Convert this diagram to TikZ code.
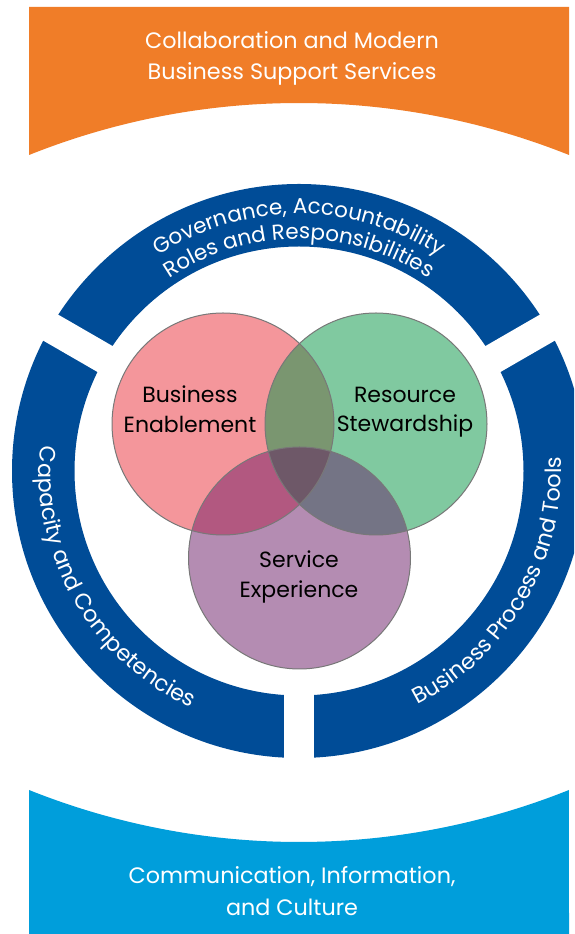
\documentclass[tikz,border=0pt]{standalone}
\usepackage{fontspec}
\setmainfont{Poppins}
\usetikzlibrary{decorations.text}
\definecolor{orangebox}{RGB}{240,125,40}
\definecolor{ringblue}{RGB}{0,76,151}
\definecolor{skyblue}{RGB}{0,158,219}
\definecolor{vpink}{RGB}{244,150,155}
\definecolor{vgreen}{RGB}{128,201,160}
\definecolor{vpurple}{RGB}{180,140,178}
\definecolor{vpg}{RGB}{122,150,112}
\definecolor{vpp}{RGB}{178,88,128}
\definecolor{vgp}{RGB}{116,116,133}
\definecolor{vall}{RGB}{110,88,104}
\definecolor{rimgray}{RGB}{120,120,120}
\newcommand\bandfont{\color{white}\fontsize{21.5}{24}\selectfont}
\newcommand\sidefont{\color{white}\fontsize{22.3}{25}\selectfont}
\tikzset{
  boxtext/.style={text=white, font=\fontsize{22.3}{26}\selectfont, anchor=base, inner sep=0pt},
  venntext/.style={text=black, font=\fontsize{22}{26}\selectfont, anchor=base, inner sep=0pt},
  rim/.style={draw=rimgray, line width=1pt},
  gapline/.style={draw=white, line width=30pt}
}
\begin{document}
\begin{tikzpicture}[x=1pt,y=1pt]
\useasboundingbox (0,0) rectangle (574,934);
\clip (0,0) rectangle (574,934);
\fill[white] (0,0) rectangle (574,934);
% top orange box
\fill[orangebox] (29,927) -- (569,927) -- (569,779) arc[start angle=68.2,end angle=111.8,radius=727] -- cycle;
% bottom blue box
\fill[skyblue] (29,0) -- (29,144) arc[start angle=-111.8,end angle=-68.2,radius=727] -- (569,0) -- cycle;
% ring
\coordinate (C) at (299,463);
\fill[ringblue, even odd rule] (C) circle[radius=287] (C) circle[radius=224.5];
\foreach \a in {30,150,270}
  \path[gapline, shift={(299,463)}] (\a:195) -- (\a:300);
% venn
\coordinate (P) at (223,510);
\coordinate (G) at (376,510);
\coordinate (U) at (299.5,376);
\fill[vpink] (P) circle[radius=111];
\fill[vgreen] (G) circle[radius=111];
\fill[vpurple] (U) circle[radius=111];
\begin{scope}
  \clip (G) circle[radius=111];
  \fill[vgp] (U) circle[radius=111];
\end{scope}
\begin{scope}
  \clip (P) circle[radius=111];
  \fill[vpg] (G) circle[radius=111];
  \fill[vpp] (U) circle[radius=111];
  \clip (G) circle[radius=111];
  \fill[vall] (U) circle[radius=111];
\end{scope}
\draw[rim] (P) circle[radius=111];
\draw[rim] (G) circle[radius=111];
\draw[rim] (U) circle[radius=111];
% venn texts
\node[venntext] (be1) at (190,531) {Business};
\node[venntext] (be2) at (190,501) {Enablement};
\node[venntext] (rs1) at (405,531) {Resource};
\node[venntext] (rs2) at (405,502) {Stewardship};
\node[venntext] (se1) at (299,366) {Service};
\node[venntext] (se2) at (299,336) {Experience};
% box texts
\node[boxtext] (t1) at (292,885) {Collaboration and Modern};
\node[boxtext] (t2) at (292,854) {Business Support Services};
\node[boxtext] (b1) at (292,50) {Communication, Information,};
\node[boxtext] (b2) at (292,19) {and Culture};
% ring texts
\path[shift={(299,463)}, decorate, decoration={text along path, text align=center,
  text={|\bandfont|Governance, Accountability}}]
  (150:257) arc[start angle=150, end angle=30, radius=257];
\path[shift={(299,463)}, decorate, decoration={text along path, text align=center,
  text={|\bandfont|Roles and Responsibilities}}]
  (150:232) arc[start angle=150, end angle=30, radius=232];
\path[shift={(299,463)}, decorate, decoration={text along path, text align=center,
  text={|\sidefont|Capacity and Competencies}}]
  (150:260) arc[start angle=150, end angle=270, radius=260];
\path[shift={(299,463)}, decorate, decoration={text along path, text align=center,
  text={|\sidefont|Business Process and Tools}}]
  (-90:262) arc[start angle=-90, end angle=30, radius=262];
\end{tikzpicture}
\end{document}
